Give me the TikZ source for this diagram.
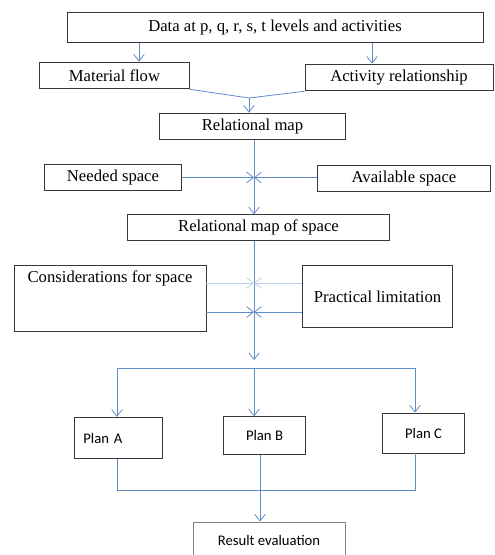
\documentclass[tikz,border=0pt]{standalone}
\usepackage{fontspec}
\setmainfont{Liberation Serif}
\newfontfamily\planfont{Carlito}
\usetikzlibrary{arrows.meta}

\definecolor{linkblue}{RGB}{96,140,200}
\definecolor{paleblue}{RGB}{186,206,232}
\definecolor{boxgray}{RGB}{55,55,55}

\begin{document}
\begin{tikzpicture}[
            x=0.75pt, y=-0.75pt,
            box/.style={
                rectangle,
                draw=boxgray,
                line width=0.7pt,
                inner sep=0pt,
                align=center,
                font=\fontsize{12.5}{14}\selectfont
            },
            planbox/.style={
                box,
                font=\planfont\fontsize{11}{13}\selectfont
            },
            arrow/.style={-{Straight Barb[length=5pt,width=8pt]}, draw=linkblue, line width=0.6pt},
            link/.style={draw=linkblue, line width=0.6pt}
        ]
        \useasboundingbox (0,0) rectangle (494,555);

        % Input data and the two analyses
        \node[box, minimum width=312pt, minimum height=23pt] (data) at (275,27.5) {Data at p, q, r, s, t levels and activities};
        \node[box, minimum width=112pt, minimum height=20pt] (matflow) at (114.5,75.5) {Material flow};
        \node[box, minimum width=141pt, minimum height=20pt] (actrel) at (399,77.5) {Activity relationship};
        \node[box, minimum width=139pt, minimum height=20pt] (relmap) at (252.5,126.5) {Relational map};

        % Space requirements
        \node[box, minimum width=103pt, minimum height=19pt] (needed) at (113,177.5) {Needed space};
        \node[box, minimum width=130pt, minimum height=19pt] (avail) at (404,178.5) {Available space};
        \node[box, minimum width=196pt, minimum height=19pt] (relspace) at (258.5,227.5) {Relational map of space};

        % Modifying considerations
        \node[box, minimum width=144pt, minimum height=50pt, text height=8pt, text depth=32pt] (consid) at (110,298.5) {Considerations for space};
        \node[box, minimum width=113pt, minimum height=47pt] (practical) at (377.5,296.5) {Practical limitation};

        % Alternative plans
        \node[planbox, minimum width=66pt, minimum height=31pt, text width=52pt, align=left, inner xsep=7pt] (planA) at (118,438) {Plan A};
        \node[planbox, minimum width=61pt, minimum height=28pt] (planB) at (264.5,435.5) {Plan B};
        \node[planbox, minimum width=62pt, minimum height=30pt] (planC) at (423.5,433) {Plan C};
        \node[planbox, draw=gray, minimum width=114pt, minimum height=27pt] (result) at (269,540) {Result evaluation};

        % helper coordinates for the connectors
        \coordinate (leftdrop) at (139,0);
        \coordinate (rightdrop) at (372,0);
        \coordinate (merge) at (249,98);
        \coordinate (spine) at (254,0);
        \coordinate (upper) at (0,283);
        \coordinate (lower) at (0,312);
        \coordinate (spread) at (0,368);
        \coordinate (gather) at (260,490);

        % Data split and merge
        \draw[arrow] (data.south -| leftdrop) -- (matflow.north -| leftdrop);
        \draw[arrow] (data.south -| rightdrop) -- (actrel.north -| rightdrop);
        \draw[link] (matflow.south east) -- (merge) -- (actrel.south west);
        \draw[arrow] (merge) -- (relmap.north -| merge);

        % Spine with space inputs
        \draw[arrow] (relmap.south -| spine) -- (relspace.north -| spine);
        \draw[arrow] (needed.east) -- (needed.east -| spine);
        \draw[arrow] (avail.west |- needed.east) -- (needed.east -| spine);

        \draw[arrow] (relspace.south -| spine) -- (spine |- 0,360);
        \draw[arrow, draw=paleblue] (consid.east |- upper) -- (spine |- upper);
        \draw[arrow, draw=paleblue] (practical.west |- upper) -- (spine |- upper);
        \draw[arrow] (consid.east |- lower) -- (spine |- lower);
        \draw[arrow] (practical.west |- lower) -- (spine |- lower);

        % Fan out to the plans
        \draw[link] (117,0 |- spread) -- (415,0 |- spread);
        \draw[arrow] (117,0 |- spread) -- (planA.north -| 117,0);
        \draw[arrow] (spine |- spread) -- (planB.north -| spine);
        \draw[arrow] (415,0 |- spread) -- (planC.north -| 415,0);

        % Collect plans into the evaluation
        \draw[link] (planA.south -| 117,0) -- (117,0 |- gather) -- (415,0 |- gather) -- (planC.south -| 415,0);
        \draw[arrow] (planB.south -| gather) -- (result.north -| gather);

        \end{tikzpicture}
\end{document}
